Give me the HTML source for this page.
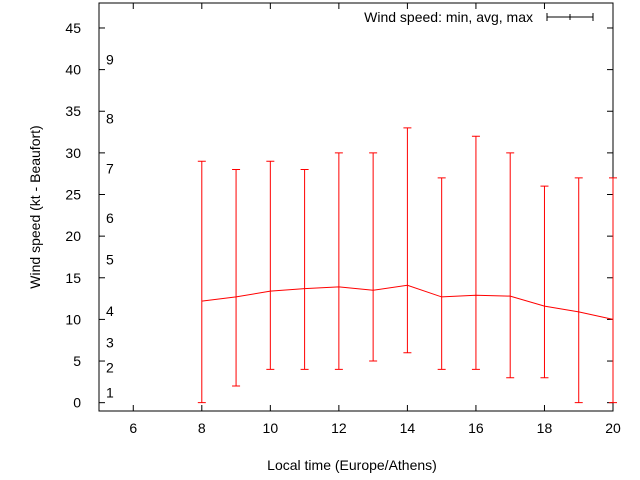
<!DOCTYPE html>
<html><head><meta charset="utf-8"><style>body{margin:0;background:#fff}svg{display:block;font-family:"Liberation Sans",sans-serif;font-size:14px}</style></head>
<body>
<svg id="c" width="640" height="480"></svg>
<script>
const hours=[8,9,10,11,12,13,14,15,16,17,18,19,20];
const minVals=[0,2,4,4,4,5,6,4,4,3,3,0,0];
const avgVals=[12.2,12.7,13.4,13.7,13.9,13.5,14.1,12.7,12.9,12.8,11.6,10.9,10.0];
const maxVals=[29,28,29,28,30,30,33,27,32,30,26,27,27];
const xTicks=[6,8,10,12,14,16,18,20];
const yTicks=[0,5,10,15,20,25,30,35,40,45];
const bft=[1,2,3,4,5,6,7,8,9];
const bftPos=[1.2,4.2,7.2,11,17.2,22.2,28.1,34.1,41.2];
const L=99,R=613,T=3,B=411,x0=5,x1=20,y0=-1,y1=48;
const sx=v=>L+(v-x0)/(x1-x0)*(R-L);
const sy=v=>B-(v-y0)/(y1-y0)*(B-T);
const s=document.getElementById('c');const NS='http://www.w3.org/2000/svg';
function mk(t,a,txt){const e=document.createElementNS(NS,t);for(const k in a)e.setAttribute(k,a[k]);if(txt!==undefined)e.textContent=txt;s.appendChild(e);return e;}
let e;
e=mk('rect',{x:L,y:T,width:R-L,height:B-T,fill:'none',stroke:'#000','stroke-width':1});

xTicks.forEach(v=>{const x=sx(v);
e=mk('line',{x1:x,y1:B,x2:x,y2:B-6,stroke:'#000'});
e=mk('line',{x1:x,y1:T,x2:x,y2:T+6,stroke:'#000'});
e=mk('text',{x:x,y:B+22,'text-anchor':'middle'},v);});
yTicks.forEach(v=>{const y=sy(v);
e=mk('line',{x1:L,y1:y,x2:L+6,y2:y,stroke:'#000'});
e=mk('line',{x1:R,y1:y,x2:R-6,y2:y,stroke:'#000'});
e=mk('text',{x:L-18,y:y+5,'text-anchor':'end'},v);});
bft.forEach((b,i)=>{e=mk('text',{x:106,y:sy(bftPos[i])+5},b);});
e=mk('text',{x:352,y:470,'text-anchor':'middle'},'Local time (Europe/Athens)');
e=mk('text',{x:40,y:207,'text-anchor':'middle',transform:'rotate(-90 40 207)'},'Wind speed (kt - Beaufort)');
hours.forEach((h,i)=>{const x=sx(h),a=sy(minVals[i]),b=sy(maxVals[i]);
e=mk('path',{d:`M${x},${a}V${b}M${x-4},${a}H${x+4}M${x-4},${b}H${x+4}`,stroke:'#f00',fill:'none'});});
e=mk('polyline',{points:hours.map((h,i)=>sx(h)+','+sy(avgVals[i])).join(' '),stroke:'#f00',fill:'none'});

e=mk('text',{x:533,y:22,'text-anchor':'end'},'Wind speed: min, avg, max');
e=mk('path',{d:'M547,17H593M547,13V21M593,13V21M570,14V20',stroke:'#000',fill:'none'});
</script>
</body></html>
